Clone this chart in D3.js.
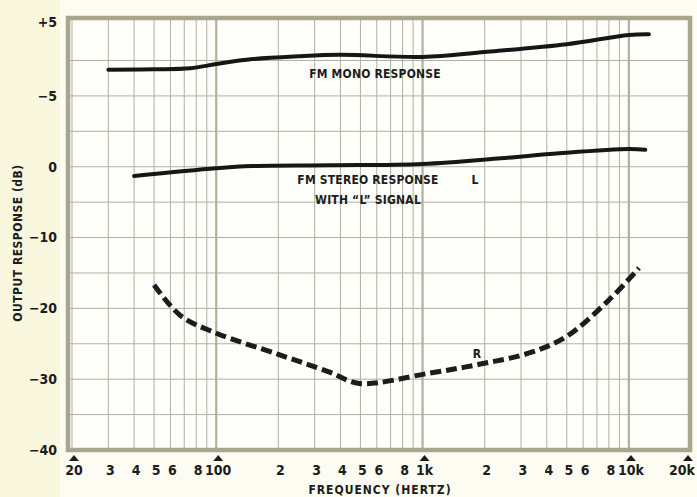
<!DOCTYPE html>
<html>
<head>
<meta charset="utf-8">
<script src="https://cdn.jsdelivr.net/npm/d3@7"></script>
<style>
  body { margin: 0; background: #fdfcf2; }
  svg text { font-family: 'DejaVu Sans Condensed', 'Liberation Sans', sans-serif; font-weight: bold; fill: #1c1c1c; }
</style>
</head>
<body>
<script>
// FM mono response (dB on the mono scale, "+5" / "-5" labels), drawn 15 dB up
var monoFreq = [30, 50, 75, 100, 150, 250, 400, 1000, 2000, 5000, 10000, 12500];
var monoDb   = [-1.3, -1.25, -1.1, -0.5, 0.2, 0.6, 0.8, 0.5, 1.2, 2.3, 3.6, 3.7];
var monoOffset = 15;

// FM stereo response, "L" signal
var leftFreq = [40, 100, 150, 360, 1000, 2400, 4600, 10000, 12000];
var leftDb   = [-1.3, -0.2, 0.1, 0.2, 0.4, 1.2, 1.9, 2.5, 2.4];

// crosstalk into R channel
var rightFreq = [50, 67, 98, 200, 354, 494, 1055, 1884, 3288, 4967, 8016, 11200];
var rightDb   = [-16.7, -21.0, -23.4, -26.5, -29.0, -30.6, -29.2, -27.9, -26.3, -24.0, -18.8, -14.3];

var yTickValues = [20, 10, 0, -10, -20, -30, -40];
var yTickLabels = ['+5', '\u22125', '0', '\u221210', '\u221220', '\u221230', '\u221240'];

var xTickValues = [20, 30, 40, 50, 60, 80, 100, 200, 300, 400, 500, 600, 800, 1000,
                   2000, 3000, 4000, 5000, 6000, 8000, 10000, 20000];
var xTickLabels = ['20', '3', '4', '5', '6', '8', '100', '2', '3', '4', '5', '6', '8', '1k',
                   '2', '3', '4', '5', '6', '8', '10k', '20k'];
var markerFreqs = [20, 100, 1000, 10000, 20000];

var w = 697, h = 497;
var gridColor = '#b3b09c';

var x = d3.scaleLog().domain([20, 20000]).range([72, 691]);
var y = d3.scaleLinear().domain([-40, 21]).range([450, 18]);

var svg = d3.select('body')
            .append('svg')
            .attr('width', w)
            .attr('height', h);

// cream strip down the left side of the page
svg.append('rect')
   .attr('x', 0).attr('y', 0)
   .attr('width', 60).attr('height', h)
   .attr('fill', '#faf7df');

// plot paper
svg.append('rect')
   .attr('x', 68).attr('y', 18)
   .attr('width', 622).attr('height', 432)
   .attr('fill', '#fefefb');

// vertical grid: every 1..9 of each decade
var vLines = [];
[20, 30, 40, 50, 60, 70, 80, 90].forEach(function(v){ vLines.push(v); });
[100, 1000].forEach(function(dec){
  for (var k = 1; k < 10; k++) vLines.push(dec * k);
});
vLines.push(10000);

svg.selectAll('line.vgrid')
   .data(vLines)
   .enter()
   .append('line')
   .attr('class', 'vgrid')
   .attr('x1', function(d){ return x(d); })
   .attr('x2', function(d){ return x(d); })
   .attr('y1', y(21))
   .attr('y2', y(-40))
   .attr('stroke', gridColor)
   .attr('stroke-width', function(d){
     return (d === 100 || d === 1000 || d === 10000) ? 2.2 : 1; });

// horizontal grid every 5 dB
svg.selectAll('line.hgrid')
   .data(d3.range(-35, 20, 5))
   .enter()
   .append('line')
   .attr('class', 'hgrid')
   .attr('x1', 68)
   .attr('x2', 690)
   .attr('y1', function(d){ return y(d); })
   .attr('y2', function(d){ return y(d); })
   .attr('stroke', gridColor)
   .attr('stroke-width', 1);

// frame
svg.append('rect')
   .attr('x', 68).attr('y', 18)
   .attr('width', 622).attr('height', 432)
   .attr('fill', 'none')
   .attr('stroke', '#a9a690')
   .attr('stroke-width', 4.5);

// curves
var line = d3.line()
             .x(function(d){ return x(d[0]); })
             .y(function(d){ return y(d[1]); })
             .curve(d3.curveCatmullRom.alpha(0.5));

svg.append('path')
   .datum(d3.zip(monoFreq, monoDb.map(function(v){ return v + monoOffset; })))
   .attr('d', line)
   .attr('fill', 'none')
   .attr('stroke', '#161616')
   .attr('stroke-width', 4)
   .attr('stroke-linecap', 'round');

svg.append('path')
   .datum(d3.zip(leftFreq, leftDb))
   .attr('d', line)
   .attr('fill', 'none')
   .attr('stroke', '#161616')
   .attr('stroke-width', 4)
   .attr('stroke-linecap', 'round');

svg.append('path')
   .datum(d3.zip(rightFreq, rightDb))
   .attr('d', line)
   .attr('fill', 'none')
   .attr('stroke', '#1c1c1c')
   .attr('stroke-width', 5)
   .attr('stroke-dasharray', '11,5');

// y tick labels
svg.selectAll('text.ylab')
   .data(yTickValues)
   .enter()
   .append('text')
   .attr('class', 'ylab')
   .attr('x', 57)
   .attr('y', function(d){ return y(d) + (d === 20 ? -3 : 0); })
   .attr('dy', '0.35em')
   .attr('text-anchor', 'end')
   .attr('font-size', '14px')
   .text(function(d, i){ return yTickLabels[i]; });

// x tick labels (last one kept inside the page)
svg.selectAll('text.xlab')
   .data(xTickValues)
   .enter()
   .append('text')
   .attr('class', 'xlab')
   .attr('x', function(d){ return d === 20000 ? 695 : x(d) + 2; })
   .attr('y', 475)
   .attr('text-anchor', function(d){ return d === 20000 ? 'end' : 'middle'; })
   .attr('font-size', '14px')
   .text(function(d, i){ return xTickLabels[i]; });

// decade markers
svg.selectAll('path.marker')
   .data(markerFreqs)
   .enter()
   .append('path')
   .attr('class', 'marker')
   .attr('d', function(d){
     var cx = Math.min(x(d) + 2, 688);
     return 'M' + (cx - 5) + ',461 L' + (cx + 5) + ',461 L' + cx + ',455 Z'; })
   .attr('fill', '#1c1c1c');

// axis titles
svg.append('text')
   .attr('transform', 'translate(22,243) rotate(-90)')
   .attr('text-anchor', 'middle')
   .attr('font-size', '12px')
   .attr('letter-spacing', '0.5px')
   .text('OUTPUT RESPONSE (dB)');

svg.append('text')
   .attr('x', 380)
   .attr('y', 494)
   .attr('text-anchor', 'middle')
   .attr('font-size', '12px')
   .attr('letter-spacing', '1px')
   .text('FREQUENCY (HERTZ)');

// in-chart notes
var notes = [
  {t: 'FM MONO RESPONSE', x: 375, y: 78},
  {t: 'FM STEREO RESPONSE', x: 368, y: 184},
  {t: 'L', x: 475, y: 184},
  {t: 'WITH \u201CL\u201D SIGNAL', x: 368, y: 204},
  {t: 'R', x: 477, y: 358}
];
svg.selectAll('text.note')
   .data(notes)
   .enter()
   .append('text')
   .attr('class', 'note')
   .attr('x', function(d){ return d.x; })
   .attr('y', function(d){ return d.y; })
   .attr('text-anchor', 'middle')
   .attr('font-size', '12px')
   .attr('letter-spacing', '0.2px')
   .text(function(d){ return d.t; });
</script>
</body>
</html>
